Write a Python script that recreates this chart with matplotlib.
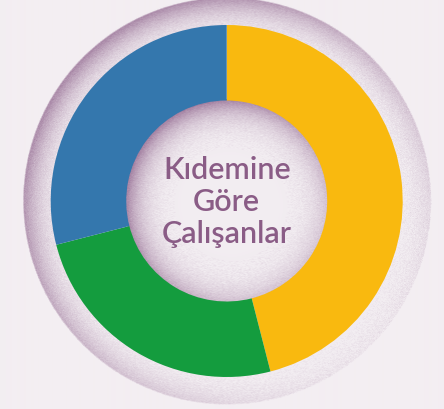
import numpy as np
import matplotlib.pyplot as plt

# share of employees by seniority, clockwise from the top
groups = ['Sarı', 'Yeşil', 'Mavi']
shares = [46, 25, 29]
colors = ['#f9b90f', '#149c3e', '#3477ad']
title = 'Kıdemine\nGöre\nÇalışanlar'

W, H = 444, 409
cx, cy = 226.7, H - 201.0
r_out, r_in, r_halo = 176.0, 100.5, 204.0

bg = np.array([243, 238, 242]) / 255
purple = np.array([150, 110, 148]) / 255

# shaded backdrop: soft ring around the donut and a hollow in the middle
yy, xx = np.mgrid[0:H, 0:W] + 0.5
yy = H - yy
dx, dy = xx - cx, yy - cy
r = np.hypot(dx, dy)
ang = np.arctan2(dy, dx)
light = np.cos(ang - np.deg2rad(135))  # darker toward top-left

alpha = np.zeros((H, W))
t = np.clip((r - r_out) / (r_halo - r_out), 0, 1)
ring = (0.18 + 0.82 * t ** 1.6) * (0.55 + 0.45 * light)
edge = np.clip((r_halo - r) / 1.5, 0, 1)
alpha = np.where(r > r_out - 2, ring * edge, alpha)

s = np.clip(r / r_in, 0, 1)
hollow = s ** 6 * (0.4 + 0.6 * np.clip(0.5 + 0.6 * light, 0, 1))
alpha = np.where(r < r_in + 2, hollow, alpha)

rng = np.random.default_rng(3)
alpha = np.clip(alpha * 0.85 + (alpha > 0.02) * rng.normal(0, 0.035, alpha.shape), 0, 1)
img = bg * (1 - alpha[..., None]) + purple * alpha[..., None]

fig = plt.figure(figsize=(W / 100, H / 100), dpi=100)
ax = fig.add_axes([0, 0, 1, 1])
ax.imshow(img, extent=(0, W, 0, H), origin='upper', interpolation='bilinear')

ax.pie(shares, colors=colors, startangle=90, counterclock=False,
       center=(cx, cy), radius=r_out,
       wedgeprops=dict(width=r_out - r_in, linewidth=0))

ax.text(cx, cy - 1, title, ha='center', va='center', fontsize=22,
        family=['Lato', 'DejaVu Sans'], weight='semibold',
        color='#8a5c86', linespacing=1.17)

ax.set_xlim(0, W)
ax.set_ylim(0, H)
ax.set_aspect('equal')
ax.axis('off')

fig.savefig('out.png', dpi=100)
